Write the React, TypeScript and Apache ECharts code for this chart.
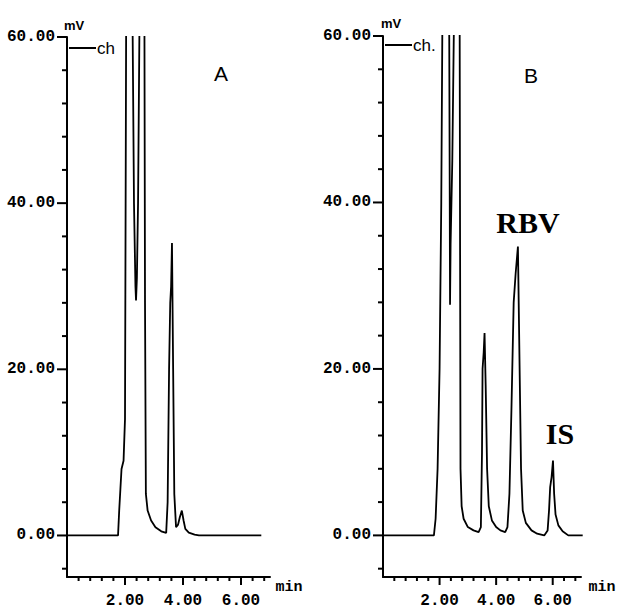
import React, { useEffect, useRef } from "react";
import * as echarts from "echarts";

// Panel A chromatogram (time in min, signal in mV); off-scale peaks exceed 60 mV
const aTime = [0, 1.76, 1.8, 1.84, 1.88, 1.95, 2.0, 2.04, 2.12, 2.26, 2.31, 2.36, 2.38, 2.41, 2.45, 2.5, 2.58, 2.67, 2.69, 2.72, 2.78, 2.9, 3.05, 3.25, 3.42, 3.47, 3.52, 3.56, 3.59, 3.62, 3.66, 3.7, 3.76, 3.83, 3.89, 3.96, 4.02, 4.08, 4.2, 4.4, 4.55, 6.7];
const aSignal = [0, 0, 3, 5.5, 8, 9, 14, 62, 110, 62, 40, 30, 28.3, 31, 40, 62, 110, 62, 28, 5, 3, 1.8, 1.0, 0.5, 0.3, 4, 20, 28, 30, 35.2, 20, 5, 1.0, 1.3, 2.2, 3.0, 1.8, 0.8, 0.35, 0.1, 0, 0];

// Panel B chromatogram
const bTime = [0, 1.8, 1.86, 1.93, 2.0, 2.06, 2.1, 2.2, 2.34, 2.36, 2.37, 2.39, 2.45, 2.51, 2.6, 2.71, 2.74, 2.78, 2.85, 3.0, 3.2, 3.38, 3.46, 3.5, 3.52, 3.56, 3.59, 3.63, 3.68, 3.74, 3.85, 4.0, 4.15, 4.32, 4.4, 4.47, 4.54, 4.62, 4.69, 4.77, 4.83, 4.88, 4.94, 5.05, 5.25, 5.45, 5.7, 5.82, 5.87, 5.91, 5.96, 6.01, 6.05, 6.1, 6.2, 6.35, 6.55, 7.06];
const bSignal = [0, 0, 2, 8, 20, 40, 62, 110, 62, 40, 27.7, 35, 45, 62, 110, 62, 8, 3.5, 2, 1, 0.6, 0.4, 1, 10, 20, 22, 24.3, 18, 8, 3.5, 1.8, 1, 0.6, 0.4, 1, 5, 15, 28, 31.5, 34.7, 20, 8, 3, 1.5, 0.6, 0.2, 0, 0.6, 3, 5.8, 7, 9, 5, 2.5, 1.2, 0.5, 0, 0];

// Axis ticks
const yMajorTicks = [0, 20, 40, 60];
const yMinorTicks = [-4, 4, 8, 12, 16, 24, 28, 32, 36, 44, 48, 52, 56];
const xMajorTicks = [2, 4, 6];
const xMinorTicks = [0.4, 0.8, 1.2, 1.6, 2.4, 2.8, 3.2, 3.6, 4.4, 4.8, 5.2, 5.6, 6.4, 6.8];

const Y_MIN = -5;
const Y_MAX = 60;
const X_MIN = 0;
const X_MAX = 7;

const monoFont = "'Liberation Mono', 'DejaVu Sans Mono', monospace";
const sansFont = "'Liberation Sans', Arial, sans-serif";
const serifFont = "'Liberation Serif', 'Times New Roman', serif";

function zip(t: number[], v: number[]) {
  return t.map((x, i) => [x, v[i]]);
}

function xAxisFor(gridIndex: number) {
  return {
    type: "value",
    gridIndex,
    position: "bottom",
    min: X_MIN,
    max: X_MAX,
    axisLine: { show: true, onZero: false, lineStyle: { color: "#000", width: 2 } },
    axisTick: { show: false },
    axisLabel: {
      show: true,
      customValues: xMajorTicks,
      formatter: (v: number) => v.toFixed(2),
      color: "#000",
      fontFamily: monoFont,
      fontWeight: "bold",
      fontSize: 16,
      margin: 16,
    },
    splitLine: { show: false },
  };
}
function yAxisFor(gridIndex: number) {
  return {
    type: "value",
    gridIndex,
    position: "left",
    min: Y_MIN,
    max: Y_MAX,
    axisLine: { show: true, onZero: false, lineStyle: { color: "#000", width: 2 } },
    axisTick: { show: false },
    axisLabel: {
      show: true,
      customValues: yMajorTicks,
      formatter: (v: number) => v.toFixed(2),
      color: "#000",
      fontFamily: monoFont,
      fontWeight: "bold",
      fontSize: 16,
      margin: 12,
    },
    splitLine: { show: false },
  };
}

function txt(text: string, x: number, y: number, font: string, size: number, weight: string, align = "center") {
  return {
    type: "text",
    x,
    y,
    style: {
      text,
      fill: "#000",
      fontFamily: font,
      fontSize: size,
      fontWeight: weight,
      align,
      verticalAlign: "middle",
    },
  };
}

export default function App() {
  const ref = useRef<HTMLDivElement>(null);
  useEffect(() => {
    if (!ref.current) return;
    const chart = echarts.init(ref.current, null, { renderer: "svg" });
    const lineStyle = { color: "#000", width: 1.8 };
    chart.setOption({
      animation: false,
      backgroundColor: "#fff",
      grid: [
        { left: 67, top: 37, width: 203, height: 540 },
        { left: 383, top: 36, width: 198, height: 541 },
      ],
      xAxis: [xAxisFor(0), xAxisFor(1)],
      yAxis: [yAxisFor(0), yAxisFor(1)],
      series: [
        {
          type: "line",
          xAxisIndex: 0,
          yAxisIndex: 0,
          data: zip(aTime, aSignal),
          showSymbol: false,
          clip: true,
          lineStyle,
        },
        {
          type: "line",
          xAxisIndex: 1,
          yAxisIndex: 1,
          data: zip(bTime, bSignal),
          showSymbol: false,
          clip: true,
          lineStyle,
        },
      ],
    });
    const labels = [
      txt("mV", 74, 25, sansFont, 13, "bold"),
      { type: "line", shape: { x1: 69, y1: 48, x2: 96, y2: 48 }, style: { stroke: "#000", lineWidth: 2 } },
      txt("ch", 97, 48, sansFont, 17, "normal", "left"),
      txt("A", 221, 73, sansFont, 21, "normal"),
      txt("mV", 391, 23, sansFont, 13, "bold"),
      { type: "line", shape: { x1: 385, y1: 45, x2: 412, y2: 45 }, style: { stroke: "#000", lineWidth: 2 } },
      txt("ch.", 413, 45, sansFont, 17, "normal", "left"),
      txt("B", 531, 75, sansFont, 21, "normal"),
      txt("RBV", 528, 222, serifFont, 30, "bold"),
      txt("IS", 560, 433, serifFont, 30, "bold"),
      txt("min", 289, 587, monoFont, 15, "bold"),
      txt("min", 602, 587, monoFont, 15, "bold"),
    ];
    // Tick marks placed through the library's own axis scales
    const ticks: any[] = [];
    const blk = { stroke: "#000", lineWidth: 2 };
    [0, 1].forEach((g) => {
      const yTick = (v: number, len: number) => {
        const p = chart.convertToPixel({ gridIndex: g }, [X_MIN, v]) as number[];
        ticks.push({ type: "line", z: 100, shape: { x1: p[0] - len, y1: p[1], x2: p[0], y2: p[1] }, style: blk });
      };
      const xTick = (t: number, len: number) => {
        const p = chart.convertToPixel({ gridIndex: g }, [t, Y_MIN]) as number[];
        ticks.push({ type: "line", z: 100, shape: { x1: p[0], y1: p[1], x2: p[0], y2: p[1] + len }, style: blk });
      };
      yMajorTicks.forEach((v) => yTick(v, 10));
      yMinorTicks.forEach((v) => yTick(v, 5));
      xMajorTicks.forEach((t) => xTick(t, 8));
      xMinorTicks.forEach((t) => xTick(t, 4));
    });
    chart.setOption({ graphic: [...labels, ...ticks] });
    return () => chart.dispose();
  }, []);
  return (
    <div
      ref={ref}
      style={{ position: "absolute", left: 0, top: 0, width: 621, height: 609 }}
    />
  );
}
